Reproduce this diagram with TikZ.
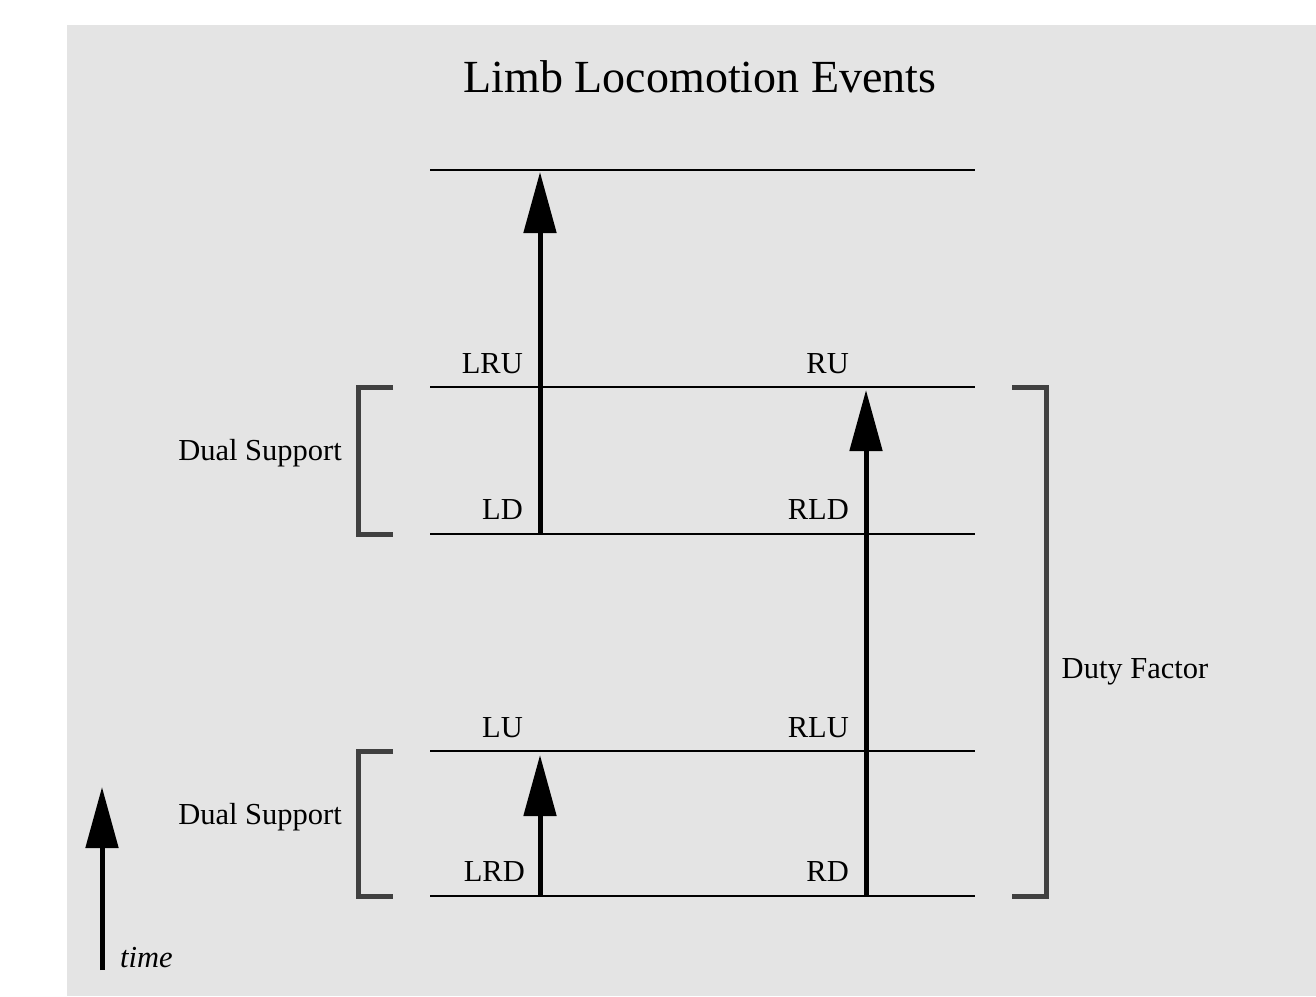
\documentclass[tikz,border=0pt]{standalone}
\usepackage{fontspec}
\setmainfont{Liberation Serif}
\usetikzlibrary{arrows.meta}
\definecolor{panel}{HTML}{E4E4E4}
\definecolor{brk}{HTML}{404040}
\begin{document}
\begin{tikzpicture}[x=1pt,y=-1pt,
  level/.style={line width=1.5pt,black},
  bigarrow/.style={line width=5pt,-{Triangle[width=32pt,length=61pt]}},
  bracketline/.style={line width=5pt,brk,line join=miter},
  lbl/.style={font=\fontsize{30.5}{32}\selectfont,inner sep=0pt,anchor=base east},
  side/.style={font=\fontsize{30.5}{32}\selectfont,inner sep=0pt,anchor=base}]
\useasboundingbox (0,0) rectangle (1316,996);
\fill[panel] (67,25) rectangle (1316,996);
% title
\node[font=\fontsize{46}{48}\selectfont,inner sep=0pt,anchor=base] (title) at (700,92) {Limb Locomotion Events};
% levels
\foreach \n/\y in {top/170,lru/387,ld/534,lu/751,lrd/896}{
  \coordinate (\n L) at (430,\y);
  \coordinate (\n R) at (975,\y);
  \draw[level] (\n L) -- (\n R);
}
% arrows
\coordinate (a1s) at (540,534); \coordinate (a1e) at (540,172);
\coordinate (a2s) at (540,896); \coordinate (a2e) at (540,755);
\coordinate (a3s) at (866,896); \coordinate (a3e) at (866,390);
\coordinate (tms) at (102,970); \coordinate (tme) at (102,787);
\draw[bigarrow] (a1s) -- (a1e);
\draw[bigarrow] (a2s) -- (a2e);
\draw[bigarrow] (a3s) -- (a3e);
\draw[bigarrow] (tms) -- (tme);
% labels
\node[lbl] (LRU) at (523,373) {LRU};
\node[lbl] (RU) at (849,373) {RU};
\node[lbl] (LD) at (523,519) {LD};
\node[lbl] (RLD) at (849,519) {RLD};
\node[lbl] (LU) at (523,737) {LU};
\node[lbl] (RLU) at (849,737) {RLU};
\node[lbl] (LRD) at (525,881) {LRD};
\node[lbl] (RD) at (849,881) {RD};
% brackets
\draw[bracketline] (393,387) -- (358,387) -- (358,534) -- (393,534);
\draw[bracketline] (393,751) -- (358,751) -- (358,896) -- (393,896);
\draw[bracketline] (1012,387) -- (1046,387) -- (1046,896) -- (1012,896);
\node[side] (ds1) at (260,460) {Dual Support};
\node[side] (ds2) at (260,824) {Dual Support};
\node[side] (df) at (1135,678) {Duty Factor};
\node[font=\fontsize{30.5}{32}\selectfont\itshape,inner sep=0pt,anchor=base west] (time) at (120,967) {time};
\end{tikzpicture}
\end{document}
